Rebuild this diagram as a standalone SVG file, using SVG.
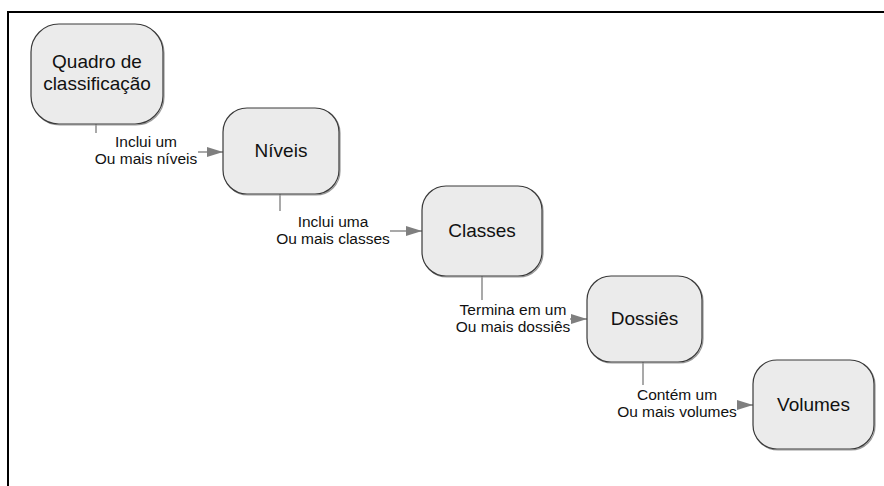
<svg xmlns="http://www.w3.org/2000/svg" width="884" height="486" viewBox="0 0 884 486">
  <style>
    .node rect.box { fill: #ebebeb; stroke: #3a3a3a; stroke-width: 1.2; }
    .node rect.shadow { fill: none; stroke: #9a9a9a; stroke-width: 1.2; }
    .node text { font-family: "Liberation Sans", Arial, sans-serif; font-size: 19px; fill: #111; text-anchor: middle; }
    .conn line { stroke: #8c8c8c; stroke-width: 1.5; fill: none; }
    .conn line.arrow { marker-end: url(#head); }
    .conn text { font-family: "Liberation Sans", Arial, sans-serif; font-size: 15.5px; fill: #111; text-anchor: middle; }
  </style>
  <defs>
    <marker id="head" markerWidth="16" markerHeight="10" refX="16" refY="5" orient="auto" markerUnits="userSpaceOnUse">
      <path d="M0,0 L16,5 L0,10 Z" fill="#7f7f7f"/>
    </marker>
  </defs>

  <rect width="884" height="486" fill="#ffffff"/>
  <!-- page frame: top and left edges -->
  <path d="M8,486 V12 H884" fill="none" stroke="#000" stroke-width="2"/>

  <g id="connectors" class="conn">
    <line x1="96" y1="124" x2="96" y2="133"/>
    <text x="146" y="147">Inclui um</text>
    <text x="146" y="164">Ou mais níveis</text>
    <line class="arrow" x1="198" y1="152" x2="223" y2="152"/>

    <line x1="280" y1="194" x2="280" y2="211"/>
    <text x="333" y="227">Inclui uma</text>
    <text x="333" y="244">Ou mais classes</text>
    <line class="arrow" x1="390" y1="231" x2="422" y2="231"/>

    <line x1="482" y1="276" x2="482" y2="300"/>
    <text x="513" y="315">Termina em um</text>
    <text x="513" y="332">Ou mais dossiês</text>
    <line class="arrow" x1="570" y1="319" x2="587" y2="319"/>

    <line x1="643" y1="362" x2="643" y2="385"/>
    <text x="677" y="400">Contém um</text>
    <text x="677" y="417">Ou mais volumes</text>
    <line class="arrow" x1="737" y1="405" x2="753" y2="405"/>
  </g>

  <g id="quadro" class="node">
    <rect class="shadow" x="32" y="25" width="132" height="100" rx="28"/>
    <rect class="box" x="31" y="24" width="132" height="100" rx="28"/>
    <text x="97" y="68">Quadro de</text>
    <text x="97" y="90">classificação</text>
  </g>

  <g id="niveis" class="node">
    <rect class="shadow" x="224" y="109" width="116" height="86" rx="24"/>
    <rect class="box" x="223" y="108" width="116" height="86" rx="24"/>
    <text x="281" y="157">Níveis</text>
  </g>

  <g id="classes" class="node">
    <rect class="shadow" x="423" y="187" width="120" height="90" rx="24"/>
    <rect class="box" x="422" y="186" width="120" height="90" rx="24"/>
    <text x="482" y="237">Classes</text>
  </g>

  <g id="dossies" class="node">
    <rect class="shadow" x="588" y="277" width="115" height="86" rx="24"/>
    <rect class="box" x="587" y="276" width="115" height="86" rx="24"/>
    <text x="644.5" y="325">Dossiês</text>
  </g>

  <g id="volumes" class="node">
    <rect class="shadow" x="754" y="361" width="121" height="89" rx="24"/>
    <rect class="box" x="753" y="360" width="121" height="89" rx="24"/>
    <text x="813.5" y="411">Volumes</text>
  </g>
</svg>
